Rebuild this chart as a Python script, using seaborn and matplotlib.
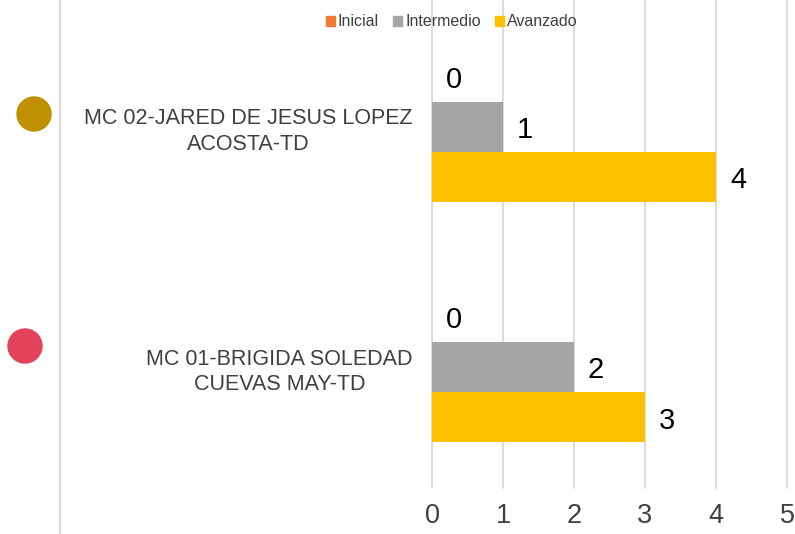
import matplotlib
matplotlib.use("Agg")
import matplotlib.pyplot as plt
from matplotlib.patches import Circle
from matplotlib.lines import Line2D
import seaborn as sns
import pandas as pd

# Data
docentes = ["MC 02-JARED DE JESUS LOPEZ\nACOSTA-TD", "MC 01-BRIGIDA SOLEDAD\nCUEVAS MAY-TD"]
niveles = ["Inicial", "Intermedio", "Avanzado"]
inicial = [0, 0]
intermedio = [1, 2]
avanzado = [4, 3]
x_ticks = [0, 1, 2, 3, 4, 5]
colores = ["#ED7D31", "#A5A5A5", "#FFC000"]
puntos = ["#BF9000", "#E2435A"]

rows = []
for i, d in enumerate(docentes):
    for nivel, vals in zip(niveles, [inicial, intermedio, avanzado]):
        rows.append({"Docente": d, "Nivel": nivel, "Valor": vals[i]})
df = pd.DataFrame(rows)

sns.set_theme(style="white")
fam = ["Liberation Sans Narrow", "Liberation Sans", "DejaVu Sans"]
plt.rcParams["font.family"] = fam
txt = "#404040"

W, H = 795, 534
fig = plt.figure(figsize=(W / 100, H / 100), dpi=100)
ax = fig.add_axes([432 / W, 1 - 488 / H, (787 - 432) / W, 488 / H])

sns.barplot(data=df, y="Docente", x="Valor", hue="Nivel", order=docentes,
            hue_order=niveles, palette=colores, orient="h", width=0.625,
            dodge=True, saturation=1, ax=ax, errorbar=None, legend=False,
            linewidth=0)

for cont in ax.containers:
    for t in ax.bar_label(cont, fmt="%g", padding=10, fontsize=21, color="#000000"):
        t.xyann = (t.xyann[0], -2.5)

ax.set_xlim(0, 5)
ax.set_ylim(1.504, -0.529)
ax.set_xticks(x_ticks)
ax.set_xticklabels([str(t) for t in x_ticks])
ax.xaxis.grid(True, color="#D9D9D9", linewidth=1.3)
for gl in ax.get_xgridlines():
    gl.set_clip_on(False)
ax.yaxis.grid(False)
ax.set_axisbelow(True)
for s in ax.spines.values():
    s.set_visible(False)
ax.tick_params(axis="both", length=0, colors=txt)
ax.tick_params(axis="x", labelsize=19.5, pad=11)
ax.tick_params(axis="y", labelsize=15.5, pad=14)
for lab in ax.get_yticklabels():
    lab.set_multialignment("center")
    lab.set_linespacing(1.3)
ax.set_xlabel("")
ax.set_ylabel("")

# Legend across the top
handles = [plt.Rectangle((0, 0), 1, 1, color=c) for c in colores]
ax.legend(handles, niveles, loc="center", bbox_to_anchor=(452 / W, 1 - 22 / H),
          bbox_transform=fig.transFigure, ncol=3, frameon=False, fontsize=11.5,
          handlelength=0.55, handleheight=0.55, handletextpad=0.2,
          columnspacing=0.9, labelcolor=txt)

# Left vertical rule and marker dots
fig.add_artist(Line2D([60 / W, 60 / W], [0, 1], transform=fig.transFigure,
                      color="#D9D9D9", linewidth=1.5))
for (cx, cy), col in zip([(34, 114), (25, 346)], puntos):
    fig.add_artist(Circle((cx, H - cy), 17, transform=None, color=col))

fig.savefig("out.png", dpi=100)
